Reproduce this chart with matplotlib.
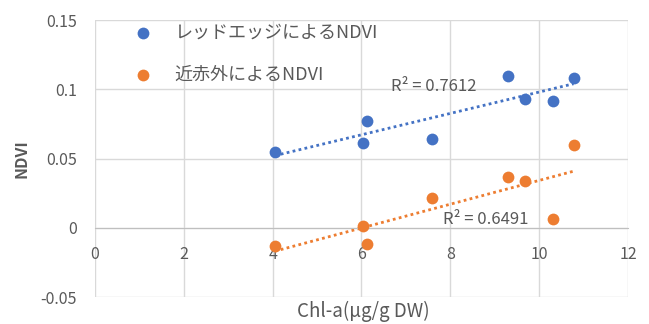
import numpy as np
import matplotlib
matplotlib.use('Agg')
import matplotlib.pyplot as plt

plt.rcParams['font.family'] = ['Noto Sans CJK JP', 'DejaVu Sans']

# Chl-a values and NDVI readings
chl_a = [4.05, 6.04, 6.13, 7.59, 9.30, 9.68, 10.31, 10.77]
ndvi_red_edge = [0.0548, 0.0613, 0.0772, 0.0642, 0.1097, 0.0931, 0.0916, 0.1082]
ndvi_nir = [-0.0130, 0.0014, -0.0115, 0.0216, 0.0368, 0.0339, 0.0065, 0.0599]
labels = ['レッドエッジによるNDVI', '近赤外によるNDVI']
r2_text = ['R² = 0.7612', 'R² = 0.6491']

x_ticks = [0, 2, 4, 6, 8, 10, 12]
y_ticks = [-0.05, 0, 0.05, 0.1, 0.15]
y_tick_labels = ['-0.05', '0', '0.05', '0.1', '0.15']

blue = '#4472C4'
orange = '#ED7D31'
txt = '#595959'
grid = '#D9D9D9'

fig = plt.figure(figsize=(6.49, 3.24), dpi=100)
ax = fig.add_axes([0.146, 0.083, 0.822, 0.855])

x = np.array(chl_a)
for y, c, lab in [(ndvi_red_edge, blue, labels[0]), (ndvi_nir, orange, labels[1])]:
    ax.scatter(x, y, s=72, color=c, label=lab, zorder=3, linewidths=0)
    k, b = np.polyfit(x, y, 1)
    xs = np.array([x.min(), x.max()])
    ax.plot(xs, k * xs + b, color=c, linestyle=(0, (1, 1.2)), linewidth=2, zorder=2)

ax.text(6.67, 0.1017, r2_text[0], fontsize=12, color=txt, va='center', ha='left')
ax.text(7.84, 0.0058, r2_text[1], fontsize=12, color=txt, va='center', ha='left')

ax.set_xlim(0, 12)
ax.set_ylim(-0.05, 0.15)
ax.set_xticks(x_ticks)
ax.set_yticks(y_ticks)
ax.set_yticklabels(y_tick_labels)
ax.grid(True, color=grid, linewidth=1)
ax.set_axisbelow(True)
for s in ['top', 'right', 'left']:
    ax.spines[s].set_visible(False)
ax.spines['bottom'].set_position(('data', 0))
ax.spines['bottom'].set_color('#BFBFBF')
ax.tick_params(length=0, colors=txt, labelsize=11.5)
ax.tick_params(axis='x', pad=13)
ax.tick_params(axis='y', pad=13)

ax.set_ylabel('NDVI', fontsize=11.5, color=txt, fontweight='bold')
ax.yaxis.set_label_coords(-0.122, 0.5)
fig.text(0.56, 0.04, 'Chl-a(μg/g DW)', fontsize=13.5, color=txt, ha='center', va='center')

leg = ax.legend(loc='upper left', bbox_to_anchor=(0.026, 1.045), frameon=False,
                fontsize=13, labelspacing=1.3, handletextpad=0.75, scatterpoints=1)
for t in leg.get_texts():
    t.set_color(txt)

fig.savefig('out.png', dpi=100)
